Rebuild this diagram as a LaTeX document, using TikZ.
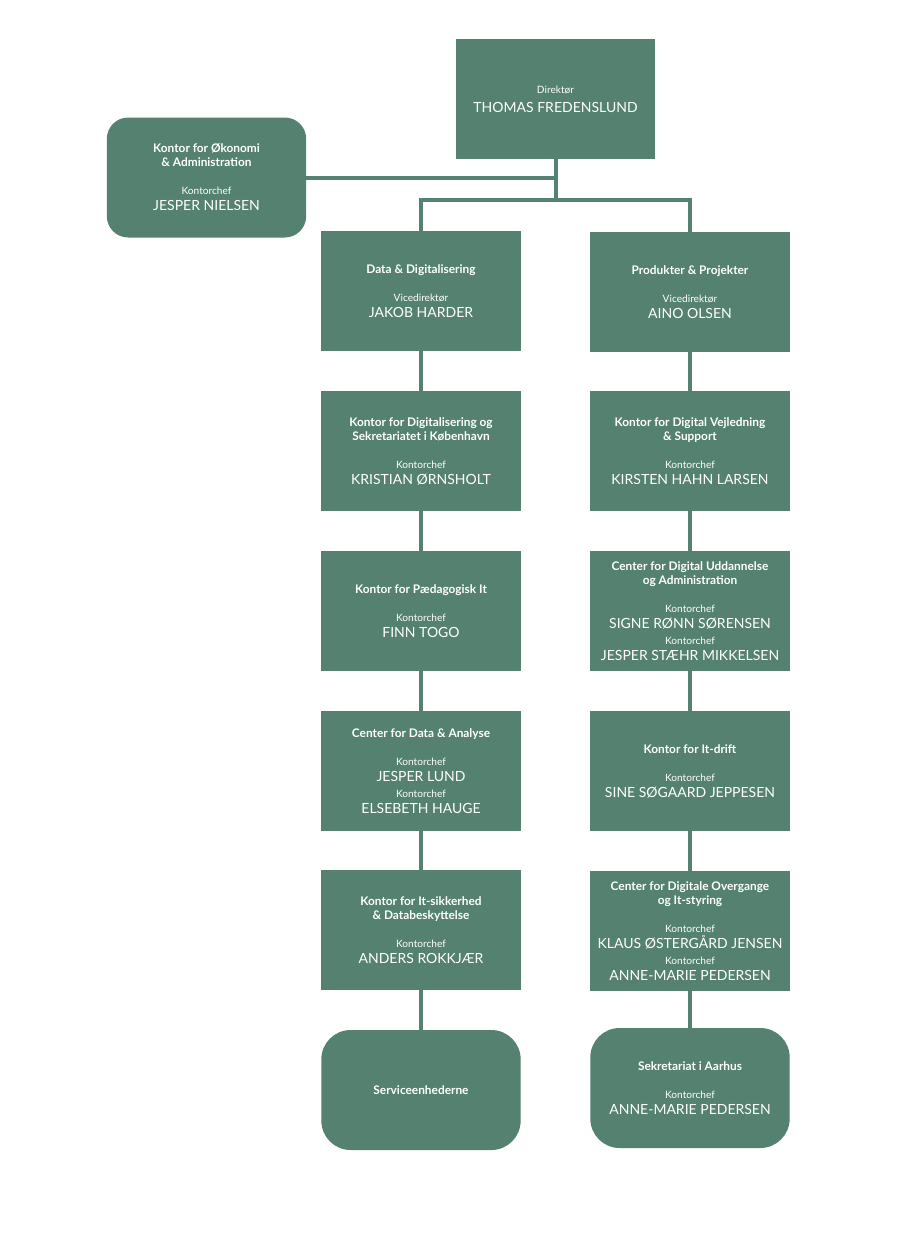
\documentclass[tikz,border=0pt]{standalone}
\usepackage{fontspec}
\setmainfont{Lato}
\usetikzlibrary{positioning}

\definecolor{boxgreen}{RGB}{84,129,112}

\newcommand{\enhed}[1]{{\bfseries\fontsize{8.9}{10}\selectfont #1}}
\newcommand{\rolle}[1]{{\fontsize{7.6}{8}\selectfont #1}}

\tikzset{
    unit/.style={fill=boxgreen, text=white, minimum width=149.5pt, minimum height=90pt,
        align=center, inner sep=2pt, font=\fontsize{10.5}{12}\selectfont},
    softunit/.style={unit, rounded corners=16pt},
    endunit/.style={unit, rounded corners=22pt},
    link/.style={draw=boxgreen, line width=3pt}
}

\begin{document}
\begin{tikzpicture}[x=0.75pt, y=-0.75pt]
    \fill[white] (0,0) rectangle (900,1240);
    \useasboundingbox (0,0) rectangle (900,1240);

    % ledelse
    \node[unit] (dir) at (555.5,99) {\rolle{Direktør}\\[2.5pt]THOMAS FREDENSLUND};
    \node[softunit] (oek) at (206.5,177.5) {\enhed{Kontor for Økonomi}\\[-1.5pt]\enhed{\& Administration}\\[9pt]\rolle{Kontorchef}\\JESPER NIELSEN};

    % venstre kolonne
    \node[unit] (l1) at (421,291) {\enhed{Data \& Digitalisering}\\[9pt]\rolle{Vicedirektør}\\JAKOB HARDER};
    \node[unit] (l2) at (421,451) {\enhed{Kontor for Digitalisering og}\\[-1.5pt]\enhed{Sekretariatet i København}\\[9pt]\rolle{Kontorchef}\\KRISTIAN ØRNSHOLT};
    \node[unit] (l3) at (421,611) {\enhed{Kontor for Pædagogisk It}\\[9pt]\rolle{Kontorchef}\\FINN TOGO};
    \node[unit] (l4) at (421,771) {\enhed{Center for Data \& Analyse}\\[9pt]\rolle{Kontorchef}\\JESPER LUND\\\rolle{Kontorchef}\\ELSEBETH HAUGE};
    \node[unit] (l5) at (421,930) {\enhed{Kontor for It-sikkerhed}\\[-1.5pt]\enhed{\& Databeskyttelse}\\[9pt]\rolle{Kontorchef}\\ANDERS ROKKJÆR};
    \node[endunit] (l6) at (421,1090) {\enhed{Serviceenhederne}};

    % højre kolonne
    \node[unit] (r1) at (690,292) {\enhed{Produkter \& Projekter}\\[9pt]\rolle{Vicedirektør}\\AINO OLSEN};
    \node[unit] (r2) at (690,451) {\enhed{Kontor for Digital Vejledning}\\[-1.5pt]\enhed{\& Support}\\[9pt]\rolle{Kontorchef}\\KIRSTEN HAHN LARSEN};
    \node[unit] (r3) at (690,611) {\enhed{Center for Digital Uddannelse}\\[-1.5pt]\enhed{og Administration}\\[9pt]\rolle{Kontorchef}\\SIGNE RØNN SØRENSEN\\\rolle{Kontorchef}\\JESPER STÆHR MIKKELSEN};
    \node[unit] (r4) at (690,771) {\enhed{Kontor for It-drift}\\[9pt]\rolle{Kontorchef}\\SINE SØGAARD JEPPESEN};
    \node[unit] (r5) at (690,931) {\enhed{Center for Digitale Overgange}\\[-1.5pt]\enhed{og It-styring}\\[9pt]\rolle{Kontorchef}\\KLAUS ØSTERGÅRD JENSEN\\\rolle{Kontorchef}\\ANNE-MARIE PEDERSEN};
    \node[endunit] (r6) at (690,1088) {\enhed{Sekretariat i Aarhus}\\[9pt]\rolle{Kontorchef}\\ANNE-MARIE PEDERSEN};

    % forbindelser
    \coordinate (hub) at (555.5,200);
    \draw[link] (dir.south) -- (hub);
    \draw[link] (oek.east) -- (oek.east -| dir.south);
    \draw[link] (l1.north) |- (hub) -| (r1.north);
    \foreach \a/\b in {l1/l2, l2/l3, l3/l4, l4/l5, l5/l6, r1/r2, r2/r3, r3/r4, r4/r5, r5/r6}
        \draw[link] (\a.south) -- (\b.north);
\end{tikzpicture}
\end{document}
